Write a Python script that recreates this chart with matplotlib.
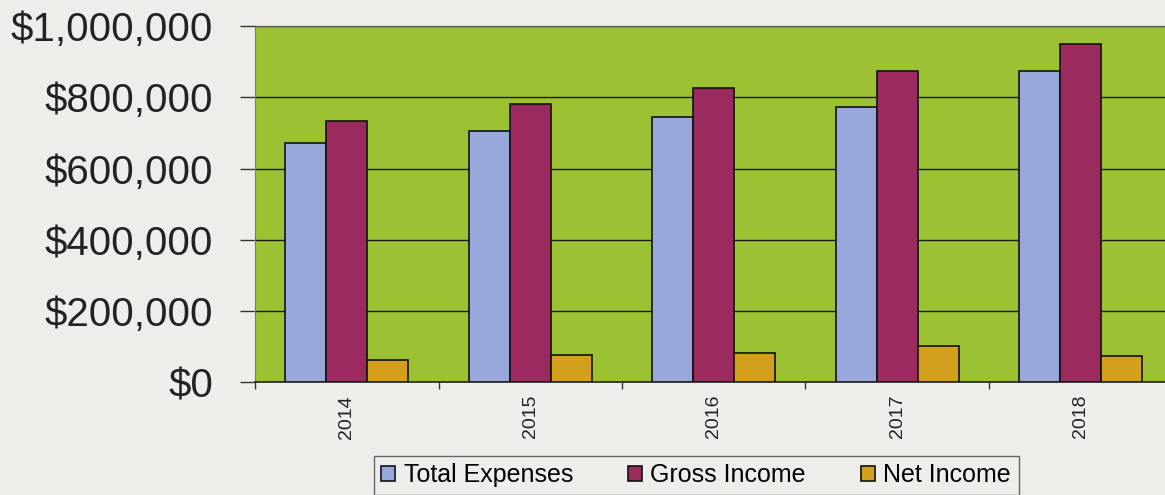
import numpy as np
import matplotlib
matplotlib.use("Agg")
import matplotlib.pyplot as plt
from matplotlib.ticker import FuncFormatter

# yearly totals
years = ["2014", "2015", "2016", "2017", "2018"]
total_expenses = [672000, 705000, 744000, 773000, 874000]
gross_income = [734000, 781000, 826000, 874000, 949000]
net_income = [62000, 76000, 82000, 101000, 75000]

series_names = ["Total Expenses", "Gross Income", "Net Income"]
series_colors = ["#99A8DA", "#9B2B5E", "#D2A01C"]

plt.rcParams["font.family"] = ["Liberation Sans", "DejaVu Sans"]

fig = plt.figure(figsize=(11.65, 4.95), dpi=100, facecolor="#EDEDE9")
# plot area runs off the right edge, like the cropped scan
ax = fig.add_axes([0.2189, 0.2273, 0.7875, 0.7202])
ax.set_facecolor("#9CC233")

x = np.arange(len(years))
width = 0.223
all_series = [total_expenses, gross_income, net_income]
for i, values in enumerate(all_series):
    ax.bar(x + (i - 1) * width, values, width,
           color=series_colors[i], edgecolor="#111111", linewidth=1.2,
           label=series_names[i], zorder=3)

ax.set_xlim(-0.5, len(years) - 0.5)
ax.set_ylim(0, 1000000)
ax.set_yticks(np.arange(0, 1000001, 200000))
ax.yaxis.set_major_formatter(FuncFormatter(lambda v, p: "${:,.0f}".format(v)))
ax.grid(axis="y", color="#1a1a1a", linewidth=1.0, zorder=1)

# year labels in the middle, tick marks between the groups
ax.set_xticks(x)
ax.set_xticklabels(years, rotation=90, fontsize=14, color="#222222")
ax.set_xticks(np.arange(-0.5, len(years)), minor=True)
ax.tick_params(axis="x", which="major", length=0, pad=9)
ax.tick_params(axis="x", which="minor", length=5, width=1, color="#333333",
               direction="out")
ax.tick_params(axis="y", labelsize=29, labelcolor="#222222", length=10.8,
               width=1, color="#333333", direction="out", pad=19.5)

ax.spines["right"].set_visible(False)
ax.spines["top"].set_color("#555555")
ax.spines["left"].set_color("#777777")
ax.spines["bottom"].set_color("#222222")
ax.spines["bottom"].set_linewidth(1.2)

handles, labels = ax.get_legend_handles_labels()
leg = fig.legend(handles, labels, loc="center", ncol=3, fontsize=18,
                 bbox_to_anchor=(696 / 1165, 1 - 475 / 495),
                 frameon=True, fancybox=False, edgecolor="#444444",
                 facecolor="#EDEDE9", handlelength=0.55, handleheight=0.55,
                 handletextpad=0.35, columnspacing=2.2, borderpad=0.3,
                 borderaxespad=0)
leg.get_frame().set_linewidth(1.0)

plt.savefig("out.png", dpi=100, facecolor=fig.get_facecolor())
